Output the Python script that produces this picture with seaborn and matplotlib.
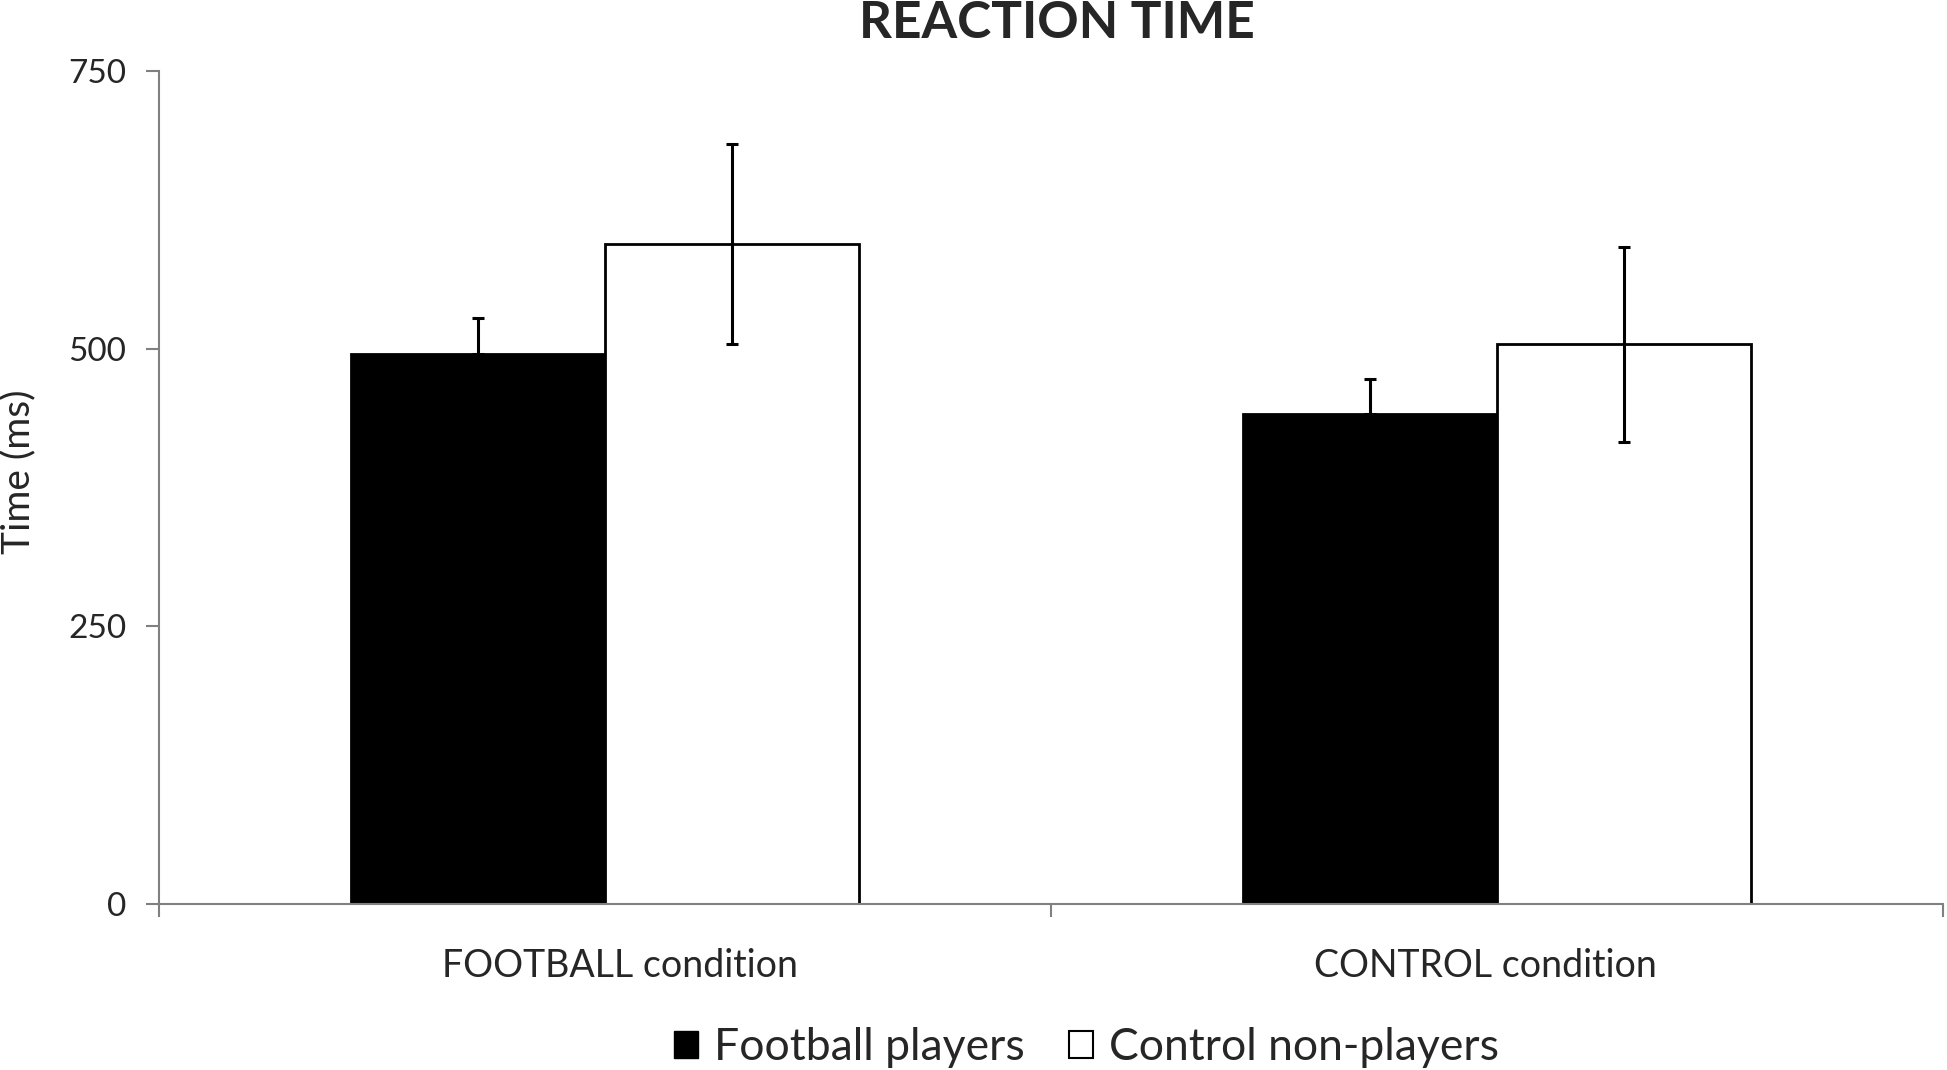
import numpy as np
import pandas as pd
import matplotlib
matplotlib.use('Agg')
import matplotlib.pyplot as plt
from matplotlib.patches import Patch
import seaborn as sns

conditions = ['FOOTBALL condition', 'CONTROL condition']
groups = ['Football players', 'Control non-players']
football_rt = [495, 441]
football_err = [33, 32]
control_rt = [594, 504]
control_err = [90, 88]

df = pd.DataFrame({
    'condition': conditions * 2,
    'group': [groups[0]] * 2 + [groups[1]] * 2,
    'time': football_rt + control_rt,
})

sns.set_style('white')
plt.rcParams['font.family'] = ['Lato', 'DejaVu Sans']

fig = plt.figure(figsize=(19.47, 10.70), dpi=100)
ax = fig.add_axes([0.0817, 0.1551, 0.9163, 0.7785])

sns.barplot(data=df, x='condition', y='time', hue='group', order=conditions,
            hue_order=groups, palette=['black', 'white'], edgecolor='black',
            linewidth=2, width=0.57, errorbar=None, legend=False, ax=ax)

# error bars: players only upward, non-players both ways
for cont, vals, errs, both in zip(ax.containers, [football_rt, control_rt],
                                  [football_err, control_err], [False, True]):
    xs = [p.get_x() + p.get_width() / 2 for p in cont.patches]
    lower = errs if both else [0] * len(errs)
    ax.errorbar(xs, vals, yerr=[lower, errs], fmt='none', ecolor='black',
                elinewidth=2.2, capsize=4.5, capthick=2.2, zorder=5)

ax.set_ylim(0, 750)
ax.set_yticks([0, 250, 500, 750])
ax.set_xlim(-0.5, 1.5)
# labels sit a bit off the category centres in the original
ax.set_xticks([0.017, 0.987])
ax.set_xticklabels(conditions)
ax.set_xticks([-0.5, 0.5, 1.5], minor=True)
ax.tick_params(axis='x', which='major', length=0, pad=32, labelsize=27)
ax.tick_params(axis='x', which='minor', length=9.5, width=1.5, color='#808080',
               direction='out', bottom=True)
ax.tick_params(axis='y', length=9.5, width=1.5, color='#808080', direction='out',
               left=True, pad=14, labelsize=24)
ax.set_xlabel('')
ax.set_ylabel('Time (ms)', fontsize=28)
ax.yaxis.set_label_coords(-0.069, 0.519)

sns.despine(ax=ax)
for s in ['left', 'bottom']:
    ax.spines[s].set_color('#808080')
    ax.spines[s].set_linewidth(1.5)

fig.text(0.543, 0.9645, 'REACTION TIME', ha='center', va='baseline',
         fontsize=37, fontweight='bold')

handles = [Patch(facecolor='black', edgecolor='black'),
           Patch(facecolor='white', edgecolor='black', linewidth=1.5)]
fig.legend(handles, groups, loc='center', bbox_to_anchor=(0.558, 0.021),
           ncol=2, frameon=False, fontsize=32, handlelength=0.55, handleheight=0.55,
           handletextpad=0.35, columnspacing=1.0)

fig.savefig('out.png', dpi=100)
